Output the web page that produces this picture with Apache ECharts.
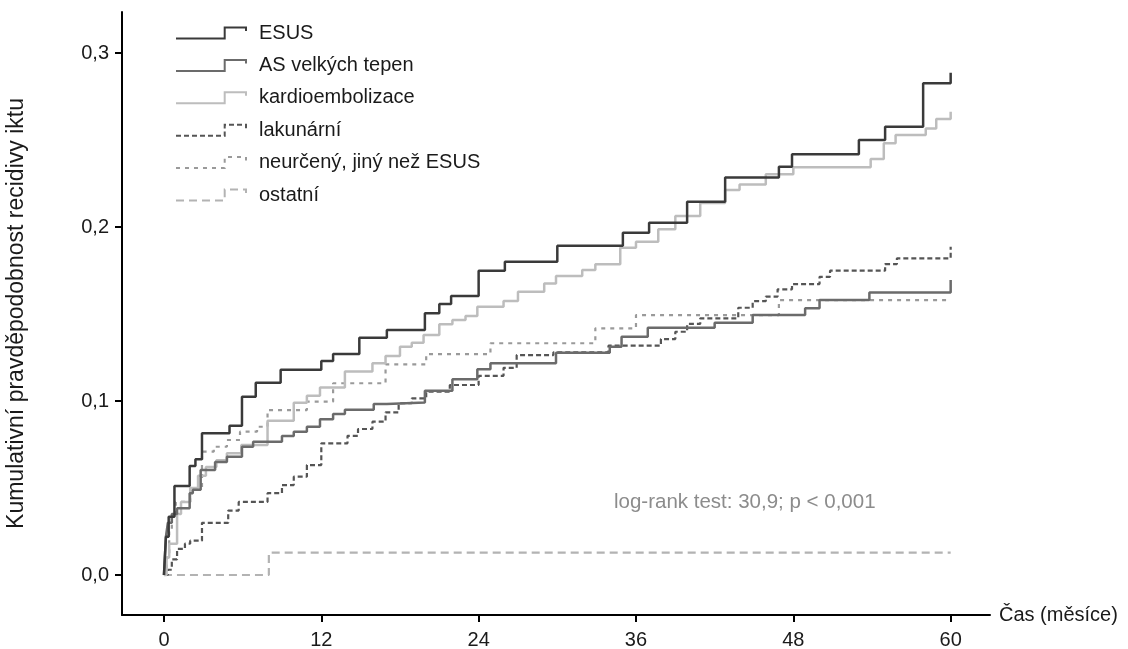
<!DOCTYPE html>
<html>
<head>
<meta charset="utf-8">
<script src="https://cdn.jsdelivr.net/npm/echarts@6/dist/echarts.min.js"></script>
<style>
html,body{margin:0;padding:0;background:#fff;}
#chart{width:1128px;height:649px;}
</style>
</head>
<body>
<div id="chart"></div>
<script>
// ---- data ----
const seriesNames = ['ESUS', 'AS velkých tepen', 'kardioembolizace', 'lakunární', 'neurčený, jiný než ESUS', 'ostatní'];
const xTicks = [0, 12, 24, 36, 48, 60];
const yTicks = [0, 0.1, 0.2, 0.3];
const annotation = 'log-rank test: 30,9; p < 0,001';
const xAxisName = 'Čas (měsíce)';
const yAxisName = 'Kumulativní pravděpodobnost recidivy iktu';

// [months, cumulative probability] – value holds from this time on
const esus = [[0,0],[0.15,0.022],[0.36,0.0335],[0.8,0.0511],[1.96,0.0626],[2.4,0.0665],[2.9,0.0814],[5.0,0.0858],[5.95,0.1025],[7.0,0.1105],[8.9,0.118],[12.0,0.123],[12.9,0.127],[14.9,0.1364],[17.0,0.1408],[19.9,0.1504],[21.0,0.1557],[21.9,0.1603],[24.0,0.1749],[26.0,0.180],[30.0,0.1893],[35.0,0.1967],[37.0,0.2025],[39.9,0.2146],[42.8,0.2284],[46.9,0.2347],[47.9,0.2418],[53.0,0.25],[55.0,0.2577],[57.9,0.2826],[60.0,0.2887]];
const asVelkych = [[0,0],[0.15,0.022],[0.3,0.03],[0.6,0.035],[1.0,0.0383],[1.96,0.047],[2.2,0.049],[2.8,0.0603],[3.9,0.065],[4.8,0.068],[5.95,0.0737],[6.8,0.0766],[9.0,0.0799],[9.9,0.0824],[10.9,0.0852],[11.9,0.0895],[12.9,0.0925],[13.8,0.095],[16.0,0.0983],[17.0,0.0992],[19.9,0.1059],[22.0,0.1125],[23.9,0.1182],[24.9,0.1217],[29.9,0.1278],[34.0,0.1312],[34.9,0.137],[36.9,0.1421],[42.0,0.145],[44.9,0.1494],[48.9,0.1533],[50.0,0.158],[53.8,0.1623],[60.0,0.1695]];
const kardio = [[0,0],[0.2,0.01],[0.4,0.018],[1.0,0.035],[1.3,0.042],[2.0,0.05],[2.6,0.057],[3.2,0.062],[4.0,0.066],[4.8,0.07],[5.9,0.0747],[7.9,0.0887],[9.9,0.099],[10.9,0.103],[11.9,0.1078],[13.8,0.1169],[15.9,0.1217],[16.9,0.1259],[18.0,0.1312],[18.9,0.1335],[19.8,0.1379],[21.0,0.1441],[22.0,0.1466],[23.0,0.1489],[23.9,0.1542],[25.9,0.1575],[27.0,0.1628],[29.0,0.1676],[29.9,0.1718],[31.9,0.1753],[32.9,0.1786],[34.8,0.1881],[36.0,0.1916],[37.7,0.1987],[39.0,0.2063],[40.9,0.2138],[42.8,0.2213],[43.9,0.2245],[45.9,0.2303],[48.0,0.2343],[53.9,0.2391],[54.9,0.2481],[55.8,0.2529],[58.1,0.2567],[58.9,0.2621],[60.0,0.2663]];
const lakunarni = [[0,0],[0.3,0.003],[0.6,0.009],[1.0,0.015],[1.6,0.018],[2.0,0.0197],[2.9,0.030],[4.9,0.037],[5.7,0.042],[7.9,0.047],[9.0,0.0517],[9.9,0.0565],[10.9,0.0632],[12.0,0.0757],[14.0,0.080],[14.8,0.0839],[15.9,0.0881],[16.9,0.0935],[17.9,0.0987],[18.9,0.1015],[20.0,0.1054],[21.8,0.1092],[24.0,0.1145],[25.9,0.1191],[26.9,0.1264],[29.7,0.128],[33.9,0.1318],[37.9,0.1356],[39.0,0.1398],[39.9,0.1443],[40.9,0.1475],[43.8,0.1536],[44.9,0.1574],[45.9,0.16],[46.8,0.1642],[47.9,0.1672],[50.0,0.1714],[50.8,0.1749],[55.0,0.1787],[55.9,0.182],[60.0,0.1887]];
const neurceny = [[0,0],[0.2,0.01],[0.4,0.025],[0.6,0.035],[0.9,0.042],[2.0,0.049],[2.9,0.0709],[3.8,0.0737],[4.8,0.0776],[5.8,0.0824],[7.1,0.0852],[7.9,0.0948],[10.9,0.0996],[12.9,0.1102],[16.9,0.1211],[20.0,0.127],[24.9,0.1332],[32.9,0.1418],[36.0,0.1494],[46.9,0.158],[60.0,0.158]];
const ostatni = [[0,0],[8.0,0.0128],[60.0,0.0128]];

const seriesData = [esus, asVelkych, kardio, lakunarni, neurceny, ostatni];

// ---- styles ----
const colors = ['#3a3a3a', '#6b6b6b', '#bdbdbd', '#555555', '#9a9a9a', '#b3b3b3'];
const dashes = ['solid', 'solid', 'solid', [5, 3], [4, 5], [8, 5]];
const widths = [2.5, 2.5, 2.5, 2.2, 2.2, 2.2];
const zs = [6, 5, 4, 3, 2, 1];
const FONT = 'Liberation Sans, Arial, Helvetica, sans-serif';
const FS = 20;
const legendIcon = 'path://M0,11 L48,11 L48,0 L69,0 L69,3.5';

const chart = echarts.init(document.getElementById('chart'), null, {renderer: 'canvas'});

const option = {
  animation: false,
  backgroundColor: '#ffffff',
  textStyle: {fontFamily: FONT},
  grid: {left: 122, right: 138, top: 12, bottom: 34, containLabel: false, outerBoundsMode: 'none'},
  legend: {
    orient: 'vertical',
    left: 175,
    top: 22,
    padding: 0,
    itemWidth: 70,
    itemHeight: 11,
    itemGap: 10.4,
    symbolKeepAspect: false,
    selectedMode: false,
    textStyle: {fontSize: FS, color: '#1a1a1a', fontFamily: FONT, padding: [0, 0, 0, 8], lineHeight: 22},
    data: seriesNames.map((n, i) => ({
      name: n,
      icon: legendIcon,
      itemStyle: {color: 'rgba(0,0,0,0)', borderColor: colors[i], borderWidth: 2, borderType: dashes[i]}
    }))
  },
  xAxis: {
    type: 'value',
    min: -3.2,
    max: 63,
    name: xAxisName,
    nameLocation: 'end',
    nameGap: 9,
    nameTextStyle: {fontSize: FS, color: '#1a1a1a', fontFamily: FONT},
    axisLine: {show: true, onZero: false, lineStyle: {color: '#000', width: 2}},
    axisTick: {show: true, customValues: xTicks, length: 7, inside: false, lineStyle: {color: '#000', width: 2}},
    axisLabel: {customValues: xTicks, fontSize: FS, color: '#1a1a1a', margin: 15, fontFamily: FONT},
    splitLine: {show: false}
  },
  yAxis: {
    type: 'value',
    min: -0.023,
    max: 0.3236,
    name: yAxisName,
    nameLocation: 'middle',
    nameGap: 94,
    nameRotate: 90,
    nameTextStyle: {fontSize: 23, color: '#1a1a1a', fontFamily: FONT},
    axisLine: {show: true, onZero: false, lineStyle: {color: '#000', width: 2}},
    axisTick: {show: true, customValues: yTicks, length: 7, inside: false, lineStyle: {color: '#000', width: 2}},
    axisLabel: {customValues: yTicks, fontSize: FS, color: '#1a1a1a', margin: 13, fontFamily: FONT,
      formatter: v => v.toFixed(1).replace('.', ',')},
    splitLine: {show: false}
  },
  graphic: [{
    type: 'text',
    left: 614,
    top: 492,
    style: {text: annotation, fill: '#8c8c8c', font: '20.5px ' + FONT}
  }],
  series: seriesNames.map((n, i) => ({
    name: n,
    type: 'line',
    step: 'end',
    data: seriesData[i],
    showSymbol: false,
    symbol: 'none',
    z: zs[i],
    lineStyle: {color: colors[i], width: widths[i], type: dashes[i]},
    itemStyle: {color: colors[i]},
    emphasis: {disabled: true}
  }))
};
chart.setOption(option);
</script>
</body>
</html>
